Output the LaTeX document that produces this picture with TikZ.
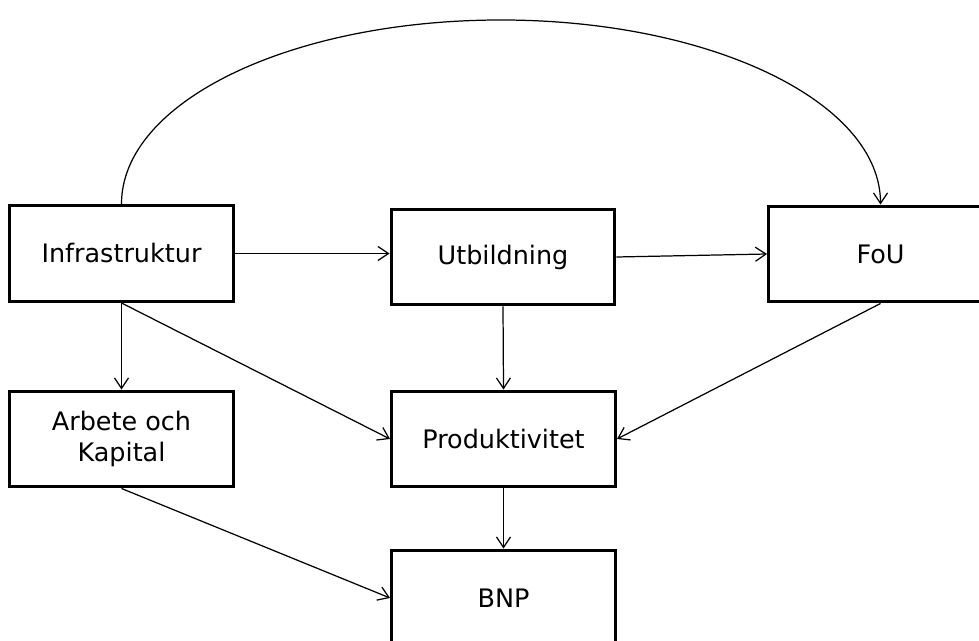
\documentclass[tikz,border=0pt]{standalone}
\usepackage{fontspec}
\setmainfont{DejaVu Sans}
\usetikzlibrary{arrows.meta}
\begin{document}
\begin{tikzpicture}[x=0.02cm,y=-0.02cm,
  box/.style={draw=black,line width=1.7pt,fill=white,minimum width=4.48cm,minimum height=1.92cm,inner sep=0pt,align=center,font=\fontsize{14.5}{17.5}\selectfont},
  conn/.style={line width=0.7pt,-{Straight Barb[length=6pt,width=8pt,line width=0.7pt]}}]
\useasboundingbox (0,0) rectangle (979,641);
\node[box] (infra) at (121.5,253.5) {Infrastruktur};
\node[box] (utb) at (503,257) {Utbildning};
\node[box] (fou) at (880.5,254) {FoU};
\node[box] (ak) at (121.5,439) {Arbete och\\Kapital};
\node[box] (prod) at (503.5,439) {Produktivitet};
\node[box] (bnp) at (503.5,598) {BNP};
\coordinate (top) at (501,20);
\draw[conn] (infra.north) .. controls +(0,-102.7) and +(-209.6,0) .. (top)
  .. controls +(209.6,0) and +(0,-102.7) .. (fou.north);
\draw[conn] (infra.east) -- (infra.east -| utb.west);
\draw[conn] (utb.east) -- (fou.west);
\draw[conn] (infra.south) -- (ak.north);
\draw[conn] (infra.south) -- (prod.west);
\draw[conn] (utb.south) -- (prod.north);
\draw[conn] (fou.south) -- (prod.east);
\draw[conn] (prod.south) -- (bnp.north);
\draw[conn] (ak.south) -- (bnp.west);
\end{tikzpicture}
\end{document}
